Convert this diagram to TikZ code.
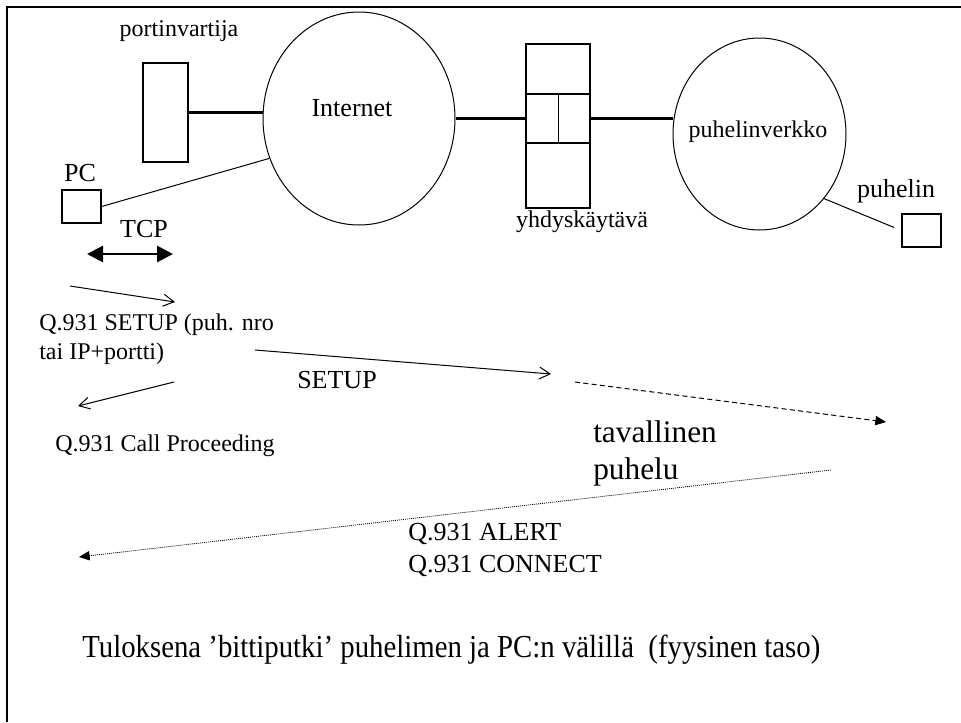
\documentclass[tikz,border=0pt]{standalone}
\usepackage{graphicx}
\usepackage{fontspec}
\setmainfont{Liberation Serif}
\usetikzlibrary{shapes.geometric,arrows.meta}

\begin{document}
\begin{tikzpicture}[x=0.75pt, y=-0.75pt,
    box/.style={draw, rectangle, line width=0.9pt, inner sep=0pt},
    term/.style={box, minimum width=29.25pt, minimum height=24.75pt},
    net/.style={draw, ellipse, line width=0.75pt, inner sep=0pt},
    txt/.style={inner sep=0pt, anchor=base},
    small/.style={font=\fontsize{18}{21.75}\selectfont},
    mid/.style={font=\fontsize{19.5}{24}\selectfont},
    big/.style={font=\fontsize{23.5}{27.75}\selectfont},
    link/.style={line width=1.7pt},
    wire/.style={line width=0.75pt},
    msg/.style={line width=0.75pt, -{Straight Barb[length=8pt, width=9pt, line width=0.75pt]}},
    solid tip/.style={-{Triangle[length=8pt, width=7pt]}}]

    \useasboundingbox (0,0) rectangle (961,722);
    \draw[line width=2pt] (7,722) -- (7,7) -- (961,7);

    % network elements
    \draw node[box, minimum width=33.75pt, minimum height=74.25pt] (gk) at (165.5,112.5) {};
    \draw node[net, minimum width=144pt, minimum height=159.75pt] (inet) at (359,118.5) {};
    \draw node[box, minimum width=48pt, minimum height=123pt] (gw) at (558,126) {};
    \draw node[box, minimum width=48pt, minimum height=36.75pt] (gwmid) at (558,118.5) {};
    \draw node[net, minimum width=129.75pt, minimum height=144pt] (pstn) at (759.5,134) {};
    \draw node[term] (pc) at (81.5,206.5) {};
    \draw node[term] (phone) at (921.5,230.5) {};

    \draw node[txt, small] (gklabel) at (179,36) {portinvartija};
    \draw node[txt, mid] (inetlabel) at (352,116) {Internet};
    \draw node[txt, small] (gwlabel) at (582,227) {yhdyskäytävä};
    \draw node[txt, small] (pstnlabel) at (758,137) {puhelinverkko};
    \draw node[txt, mid] (pclabel) at (80,181) {PC};
    \draw node[txt, mid] (phonelabel) at (896,197) {puhelin};
    \draw node[txt, mid] (tcplabel) at (144,237) {TCP};

    \draw[link] (gk.east) -- (gk.east -| inet.west);
    \draw[link] (inet.east) -- (gwmid.west);
    \draw[link] (gwmid.east) -- (gwmid.east -| pstn.west);
    \draw[wire] (gwmid.north) -- (gwmid.south);
    \draw[wire] (pc.east) -- (inet.204);
    \draw[wire, shorten >=6pt] (pstn.-45) -- (phone.west);

    % signalling
    \coordinate (tcpL) at (87,254);
    \coordinate (tcpR) at (173,254);
    \coordinate (s1a) at (70,286);
    \coordinate (s1b) at (175,302);
    \coordinate (s2a) at (255,350);
    \coordinate (s2b) at (551,374);
    \coordinate (cpa) at (174,382);
    \coordinate (cpb) at (78,406);
    \coordinate (tela) at (575,382);
    \coordinate (telb) at (886,422);
    \coordinate (cona) at (831,470);
    \coordinate (conb) at (79,557);

    \draw[line width=2.2pt, {Triangle[length=12pt, width=12pt]}-{Triangle[length=12pt, width=12pt]}] (tcpL) -- (tcpR);
    \draw[msg] (s1a) -- (s1b);
    \draw[msg] (s2a) -- (s2b);
    \draw[msg] (cpa) -- (cpb);
    \draw[wire, solid tip, dash pattern=on 3.75pt off 2.5pt] (tela) -- (telb);
    \draw[line width=0.6pt, solid tip, dash pattern=on 0.75pt off 0.75pt] (cona) -- (conb);

    \draw node[txt, small, anchor=base west, align=left] (setuplabel) at (39,359) {Q.931 SETUP (puh. nro\\tai IP+portti)};
    \draw node[txt, mid] (setup) at (337,388) {SETUP};
    \draw node[txt, small, anchor=base west] (cplabel) at (55,451) {Q.931 Call Proceeding};
    \draw node[txt, big, anchor=base west, align=left] (tellabel) at (593,479) {tavallinen\\puhelu};
    \draw node[txt, mid, anchor=base west, align=left] (conlabel) at (408,572) {Q.931 ALERT\\Q.931 CONNECT};
    \draw node[txt, anchor=base west, font=\fontsize{24}{28}\selectfont] (result) at (82,657)
        {\scalebox{0.9}[1]{Tuloksena ’bittiputki’ puhelimen ja PC:n välillä~ (fyysinen taso)}};
\end{tikzpicture}
\end{document}
